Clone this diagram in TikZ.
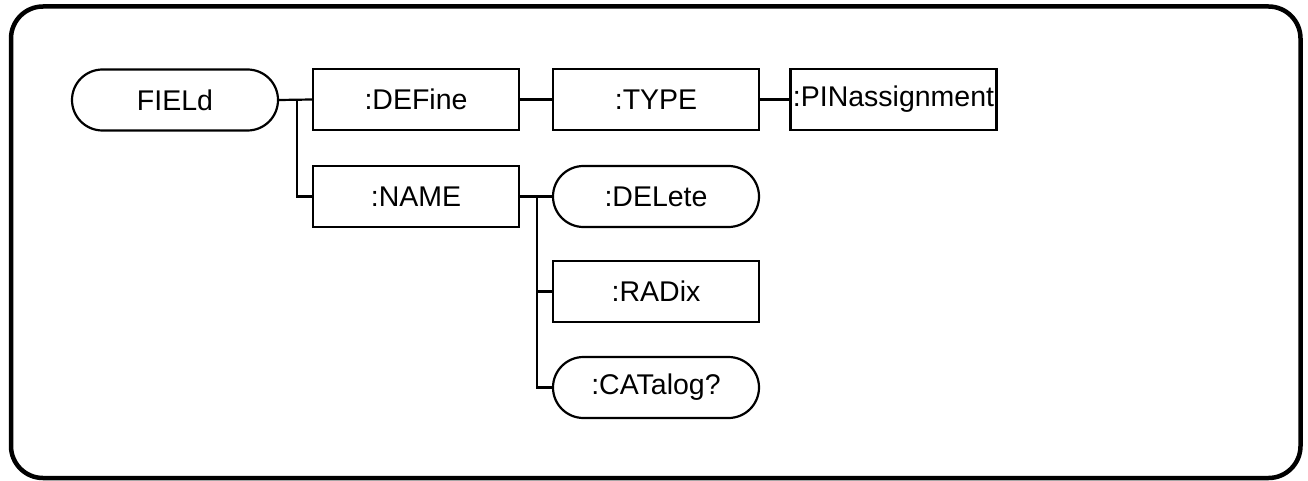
\documentclass[tikz,border=0pt]{standalone}
\usepackage{fontspec}
\setmainfont{Liberation Sans}
\begin{document}
\begin{tikzpicture}[x=1pt,y=-1pt,
  every node/.style={font=\fontsize{28.5}{34}\selectfont},
  cmdbox/.style={draw,line width=2.2pt,minimum width=206pt,minimum height=61pt,inner sep=0pt},
  pill/.style={cmdbox,rounded corners=30.5pt},
  wire/.style={line width=2.2pt}]
  \useasboundingbox (0,0) rectangle (1308,481);
  % outer frame
  \draw[line width=4.5pt,rounded corners=32pt] (11,6.5) rectangle (1300.5,478);
  % command tree
  \node[pill]   (field)   at (175,100)   {FIELd};
  \node[cmdbox] (define)  at (416,99.5)  {:DEFine};
  \node[cmdbox] (name)    at (416,196.5) {:NAME};
  \node[cmdbox] (type)    at (656,99.5)  {:TYPE};
  \node[cmdbox] (pin)     at (893.5,99.5) {:PINassignment};
  \node[pill]   (delete)  at (656,196.5) {:DELete};
  \node[cmdbox] (radix)   at (656,291.5) {:RADix};
  \node[pill]   (catalog) at (656,387.5) {:CATalog?};
  % connectors
  \coordinate (j1) at (297,99.5);
  \coordinate (j2) at (537,196.5);
  \draw[wire] (field.east) -- (define.west);
  \draw[wire] (j1) |- (name.west);
  \draw[wire] (define.east) -- (type.west);
  \draw[wire] (type.east) -- (pin.west);
  \draw[wire] (name.east) -- (delete.west);
  \draw[wire] (j2) |- (radix.west);
  \draw[wire] (j2) |- (catalog.west);
\end{tikzpicture}
\end{document}
